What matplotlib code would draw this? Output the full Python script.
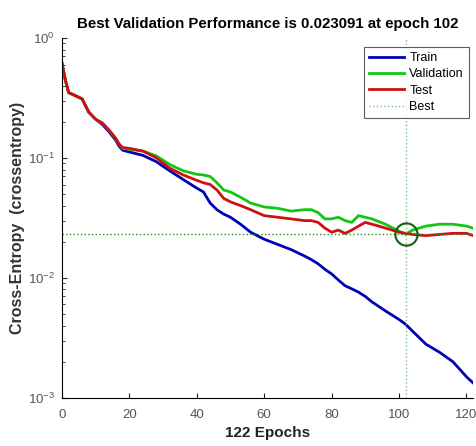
import matplotlib
matplotlib.use("Agg")
import matplotlib.pyplot as plt

plt.rcParams['font.family'] = ['Liberation Sans', 'DejaVu Sans']

ep = [0, 1, 2, 4, 6, 8, 10, 12, 14, 16, 17, 18, 20, 24, 28, 32, 36, 40, 42, 44, 46, 48, 50,
      53, 56, 60, 64, 68, 72, 74, 76, 78, 80, 82, 84, 86, 88, 90, 92, 96, 100, 102, 104,
      108, 112, 116, 120, 122]

train = [0.62, 0.45, 0.35, 0.33, 0.31, 0.24, 0.21, 0.19, 0.165, 0.14, 0.125, 0.116, 0.112,
         0.105, 0.093, 0.078, 0.066, 0.056, 0.052, 0.042, 0.037, 0.034, 0.032,
         0.028, 0.024, 0.021, 0.019, 0.0172, 0.0152, 0.0142, 0.0131, 0.0118, 0.0108, 0.0096,
         0.0086, 0.0081, 0.0076, 0.0070, 0.0063, 0.0053, 0.0045, 0.0041, 0.0036,
         0.0028, 0.0024, 0.0020, 0.0015, 0.00133]

valid = [0.62, 0.45, 0.35, 0.33, 0.31, 0.24, 0.21, 0.195, 0.17, 0.145, 0.13, 0.12, 0.118,
         0.114, 0.104, 0.088, 0.078, 0.073, 0.072, 0.070, 0.062, 0.054, 0.052,
         0.047, 0.042, 0.039, 0.038, 0.036, 0.037, 0.037, 0.035, 0.031, 0.031, 0.032,
         0.030, 0.029, 0.033, 0.032, 0.031, 0.028, 0.0245, 0.0231, 0.025,
         0.027, 0.028, 0.028, 0.027, 0.026]

test = [0.62, 0.45, 0.35, 0.33, 0.31, 0.24, 0.21, 0.195, 0.17, 0.145, 0.13, 0.122, 0.12,
        0.114, 0.100, 0.082, 0.072, 0.065, 0.062, 0.060, 0.054, 0.046, 0.043,
        0.040, 0.037, 0.033, 0.032, 0.031, 0.030, 0.030, 0.029, 0.026, 0.024, 0.025,
        0.0235, 0.025, 0.027, 0.029, 0.028, 0.026, 0.024, 0.0235, 0.023,
        0.0225, 0.023, 0.0235, 0.0235, 0.0225]

best_epoch = 102
best_perf = 0.023091
n_epochs = 122

fig = plt.figure(figsize=(4.76, 4.46), dpi=100)
ax = fig.add_axes([0.130, 0.108, 0.864, 0.807])

ax.plot(ep, train, color='#0000b8', lw=2, label='Train')
ax.plot(ep, valid, color='#10c810', lw=2, label='Validation')
ax.plot(ep, test, color='#d01010', lw=2, label='Test')
ax.axvline(best_epoch, color='#7fbf7f', lw=1, ls=':', label='Best')
ax.axhline(best_perf, color='#209020', lw=1, ls=':')
ax.plot([best_epoch], [best_perf], 'o', ms=16, mfc='none', mec='#106010', mew=1.5)

ax.set_yscale('log')
ax.set_ylim(1e-3, 1e0)
ax.set_xlim(0, n_epochs)
ax.set_xticks([0, 20, 40, 60, 80, 100, 120])

for s in ['top', 'right']:
    ax.spines[s].set_visible(False)
ax.tick_params(which='both', direction='in', colors='#222222', labelcolor='#555555', labelsize=9.5)
ax.tick_params(axis='x', pad=8)
ax.tick_params(axis='y', pad=5)

ax.set_title('Best Validation Performance is 0.023091 at epoch 102', fontsize=10.8, fontweight='bold', pad=7)
ax.set_xlabel('122 Epochs', fontsize=11, fontweight='bold', color='#222222', labelpad=4)
ax.set_ylabel('Cross-Entropy  (crossentropy)', fontsize=11.5, fontweight='bold', color='#333333', labelpad=2)

leg = ax.legend(loc='upper right', bbox_to_anchor=(0.99, 0.975), fontsize=9, fancybox=False,
                edgecolor='#333333', borderaxespad=0.0, handlelength=2.8, labelspacing=0.35,
                borderpad=0.4, handletextpad=0.4)
leg.get_frame().set_linewidth(0.8)

fig.savefig('out.png', dpi=100)
